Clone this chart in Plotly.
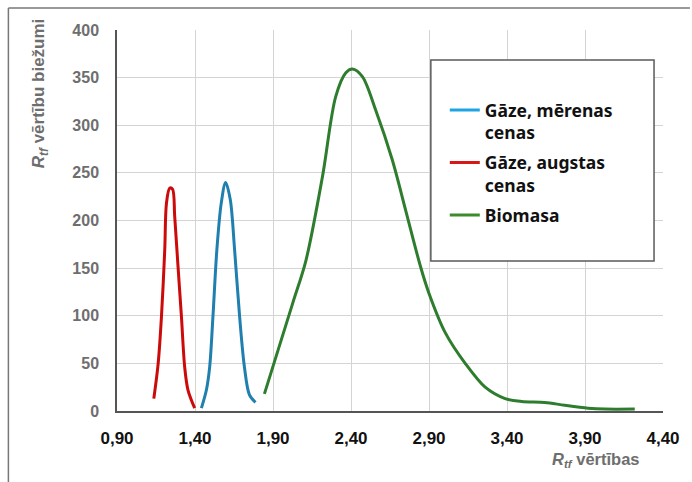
import plotly.graph_objects as go

# --- data ---
gas_high_x = [1.136, 1.164, 1.185, 1.206, 1.217, 1.238, 1.256, 1.270, 1.291, 1.313, 1.334, 1.355, 1.398]
gas_high_y = [13, 50, 99, 169, 218, 234, 233, 204, 152, 99, 46, 22, 3]

gas_mod_x = [1.441, 1.473, 1.494, 1.515, 1.540, 1.568, 1.596, 1.626, 1.654, 1.686, 1.717, 1.749, 1.788]
gas_mod_y = [3, 22, 46, 99, 169, 218, 240, 222, 169, 99, 46, 17, 9]

bio_x = [1.845, 2.026, 2.111, 2.217, 2.302, 2.367, 2.409, 2.473, 2.558, 2.664, 2.750, 2.845,
         2.899, 3.005, 3.132, 3.260, 3.388, 3.494, 3.642, 3.770, 3.920, 4.027, 4.219]
bio_y = [18, 113, 158, 246, 330, 355, 359, 351, 316, 264, 211, 152,
         124, 82, 50, 25, 13, 10, 9, 6, 3, 2, 2]

series_names = ["Gāze, mērenas<br>cenas", "Gāze, augstas<br>cenas", "Biomasa"]
line_colors = ["#1f7fae", "#cc0a0a", "#2e7d2e"]
legend_colors = ["#1ea4e2", "#d81818", "#3c8c2c"]

x_ticks = [0.9, 1.4, 1.9, 2.4, 2.9, 3.4, 3.9, 4.4]
y_ticks = [0, 50, 100, 150, 200, 250, 300, 350, 400]

fig = go.Figure()
for xs, ys, col in [(gas_mod_x, gas_mod_y, line_colors[0]),
                    (gas_high_x, gas_high_y, line_colors[1]),
                    (bio_x, bio_y, line_colors[2])]:
    fig.add_trace(go.Scatter(x=xs, y=ys, mode="lines", showlegend=False,
                             line=dict(color=col, width=3, shape="spline", smoothing=0.9)))
# legend entries
for i, (name, col) in enumerate(zip(series_names, legend_colors)):
    fig.add_trace(go.Scatter(x=[None], y=[None], mode="lines", name=name,
                             legendgroup=f"g{i}",
                             line=dict(color=col, width=3)))

W, H = 692, 482
L, R, T, B = 117, 665, 30, 411
def px(xp):
    return (xp - L) / (R - L)
def py(yp):
    return (B - yp) / (B - T)

fig.update_layout(
    width=W, height=H,
    margin=dict(l=L, r=W - R, t=T, b=H - B),
    paper_bgcolor="white", plot_bgcolor="white",
    separators=", ",
    font=dict(family="Liberation Sans, Arial, sans-serif"),
    xaxis=dict(range=[0.9, 4.4], tickvals=x_ticks, tickformat=".2f",
               showgrid=True, gridcolor="#d4d4d4", gridwidth=1,
               showline=True, linecolor="#555555", linewidth=1.5,
               zeroline=False, ticks="",
               tickfont=dict(size=17, color="#111111", family="Liberation Sans, Arial", weight="bold"),
               ticklabelstandoff=11),
    yaxis=dict(range=[0, 400], tickvals=y_ticks,
               showgrid=True, gridcolor="#d4d4d4", gridwidth=1,
               showline=True, linecolor="#555555", linewidth=1.5,
               zeroline=False, ticks="",
               tickfont=dict(size=16, color="#6e6e6e", family="Liberation Sans, Arial", weight="bold"),
               ticklabelstandoff=13),
    legend=dict(x=px(446), y=py(92), xanchor="left", yanchor="top",
                bgcolor="rgba(0,0,0,0)", borderwidth=0,
                valign="top", tracegroupgap=4,
                font=dict(size=17.5, color="#111111", family="Noto Sans, Lato, sans-serif", weight="bold")),
    shapes=[
        # legend box
        dict(type="rect", xref="paper", yref="paper",
             x0=px(432), x1=px(656), y0=py(261), y1=py(60),
             line=dict(color="#5a5a5a", width=1.5), fillcolor="white", layer="above"),
        # outer frame lines
        dict(type="line", xref="paper", yref="paper",
             x0=px(8), x1=px(692), y0=py(8), y1=py(8),
             line=dict(color="#777777", width=1.5)),
        dict(type="line", xref="paper", yref="paper",
             x0=px(8), x1=px(8), y0=py(8), y1=py(482),
             line=dict(color="#777777", width=1.5)),
    ],
    annotations=[
        dict(text="<b><i>R</i><sub><i>tf</i></sub> vērtību biežumi</b>",
             xref="paper", yref="paper", x=px(40), y=py(93),
             textangle=-90, showarrow=False, xanchor="center", yanchor="middle",
             font=dict(size=17, color="#6e6e6e", family="Liberation Sans, Arial")),
        dict(text="<b><i>R</i><sub><i>tf</i></sub> vērtības</b>",
             xref="paper", yref="paper", x=px(598), y=py(460),
             showarrow=False, xanchor="center", yanchor="middle",
             font=dict(size=16.5, color="#6e6e6e", family="Liberation Sans, Arial")),
    ],
)

fig.write_html("out.html", config={"displayModeBar": False},
               post_script="document.body.style.margin='0';document.body.style.overflow='hidden';")
